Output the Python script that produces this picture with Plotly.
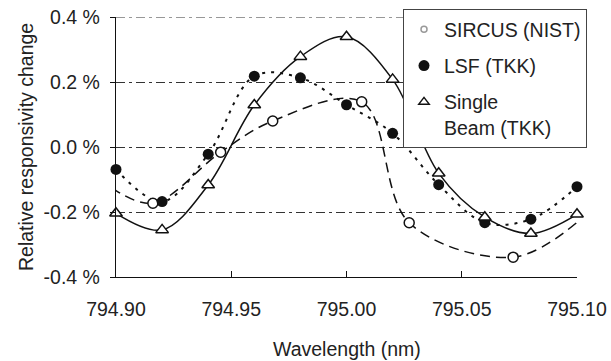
import plotly.graph_objects as go

# ---- data ----
wl_grid = [794.90, 794.92, 794.94, 794.96, 794.98, 795.00, 795.02, 795.04, 795.06, 795.08, 795.10]
lsf_tkk = [-0.069, -0.168, -0.022, 0.218, 0.213, 0.130, 0.042, -0.116, -0.233, -0.222, -0.122]
single_beam_tkk = [-0.204, -0.255, -0.117, 0.129, 0.278, 0.339, 0.208, -0.081, -0.216, -0.266, -0.207]

sircus_wl = [794.916, 794.9454, 794.968, 795.0066, 795.0272, 795.0723]
sircus_val = [-0.173, -0.016, 0.080, 0.139, -0.233, -0.339]
# smoothed SIRCUS curve (extends to the ends of the range)
sircus_curve_wl = [794.898, 794.916, 794.9454, 794.968, 795.0066, 795.0272, 795.0723, 795.10]
sircus_curve_val = [-0.125, -0.173, -0.016, 0.080, 0.139, -0.233, -0.339, -0.232]

y_tickvals = [-0.4, -0.2, 0.0, 0.2, 0.4]
y_ticktext = ["-0.4 %", "-0.2 %", "0.0 %", "0.2 %", "0.4 %"]
x_tickvals = [794.90, 794.95, 795.00, 795.05, 795.10]
x_ticktext = ["794.90", "794.95", "795.00", "795.05", "795.10"]

FONT = "Liberation Sans, Arial, sans-serif"
FS = 19.5
TXT = "#222222"
INK = "#111111"
GRID_DASH = "9px,4px,3px,4px"
GRID_COLOR = "#333333"

fig = go.Figure()

# lines (no legend)
fig.add_trace(go.Scatter(x=sircus_curve_wl, y=sircus_curve_val, mode="lines",
                         line=dict(color=INK, width=1.5, dash="10px,6px", shape="spline", smoothing=1),
                         showlegend=False, hoverinfo="skip", cliponaxis=False))
fig.add_trace(go.Scatter(x=wl_grid, y=lsf_tkk, mode="lines",
                         line=dict(color=INK, width=2, dash="3px,6px", shape="spline", smoothing=1),
                         showlegend=False, hoverinfo="skip", cliponaxis=False))
fig.add_trace(go.Scatter(x=wl_grid, y=single_beam_tkk, mode="lines",
                         line=dict(color=INK, width=1.5, shape="spline", smoothing=1),
                         showlegend=False, hoverinfo="skip", cliponaxis=False))

# markers
fig.add_trace(go.Scatter(x=sircus_wl, y=sircus_val, mode="markers",
                         marker=dict(symbol="circle", size=10, color="white",
                                     line=dict(color=INK, width=1.5)),
                         showlegend=False, cliponaxis=False))
fig.add_trace(go.Scatter(x=wl_grid, y=lsf_tkk, mode="markers",
                         marker=dict(symbol="circle", size=11, color=INK),
                         showlegend=False, cliponaxis=False))
fig.add_trace(go.Scatter(x=wl_grid, y=single_beam_tkk, mode="markers",
                         marker=dict(symbol="triangle-up", size=11, color="white",
                                     line=dict(color=INK, width=1.5)),
                         showlegend=False, cliponaxis=False))

# legend entries
fig.add_trace(go.Scatter(x=[None], y=[None], mode="markers", name="SIRCUS (NIST)",
                         legendgroup="a",
                         marker=dict(symbol="circle-open", size=6, color="#999999",
                                     line=dict(width=1.5))))
fig.add_trace(go.Scatter(x=[None], y=[None], mode="markers", name="LSF (TKK)",
                         legendgroup="b",
                         marker=dict(symbol="circle", size=11, color=INK)))
fig.add_trace(go.Scatter(x=[None], y=[None], mode="markers", name="Single<br>Beam (TKK)",
                         legendgroup="c",
                         marker=dict(symbol="triangle-up", size=9, color="white",
                                     line=dict(color=INK, width=1.5))))

L, R, T, B = 116, 34, 17, 84
W, H = 611, 361
pw, ph = W - L - R, H - T - B

fig.update_layout(
    width=W, height=H,
    margin=dict(l=L, r=R, t=T, b=B, pad=0, autoexpand=False),
    paper_bgcolor="white", plot_bgcolor="white",
    font=dict(family=FONT, size=FS, color=TXT),
    showlegend=True,
    legend=dict(x=(403 - L) / pw, y=(H - B - 9) / ph, xanchor="left", yanchor="top",
                bgcolor="white", bordercolor="#444444", borderwidth=1,
                font=dict(family=FONT, size=FS, color=TXT),
                tracegroupgap=8, valign="top", itemwidth=30),
    xaxis=dict(range=[794.90, 795.10], tickvals=x_tickvals, ticktext=x_ticktext,
               showgrid=False, zeroline=False, showline=True, linecolor=INK, linewidth=1.3,
               ticks="inside", ticklen=6, tickcolor=INK, tickwidth=1.3,
               tickfont=dict(family=FONT, size=FS, color=TXT), ticklabelstandoff=14),
    yaxis=dict(range=[-0.4, 0.4], tickvals=y_tickvals, ticktext=y_ticktext,
               showgrid=True, gridcolor=GRID_COLOR, gridwidth=1, griddash=GRID_DASH,
               zeroline=False, showline=True, linecolor=INK, linewidth=1.3,
               ticks="outside", ticklen=5, tickcolor=INK, tickwidth=1.3,
               tickfont=dict(family=FONT, size=FS, color=TXT), ticklabelstandoff=6),
    shapes=[
        # top grid line (plotly omits the grid line at the range edge)
        dict(type="line", xref="paper", yref="y", x0=0, x1=1,
             y0=y_tickvals[-1], y1=y_tickvals[-1], layer="below",
             line=dict(color=GRID_COLOR, width=1, dash=GRID_DASH)),
    ],
    annotations=[
        dict(text="Wavelength (nm)", xref="paper", yref="paper",
             x=0.5, y=(H - B - 349) / ph, xanchor="center", yanchor="middle",
             showarrow=False, font=dict(family=FONT, size=FS, color=TXT)),
        dict(text="Relative responsivity change", xref="paper", yref="paper",
             x=(26 - L) / pw, y=0.5, xanchor="center", yanchor="middle", textangle=-90,
             showarrow=False, font=dict(family=FONT, size=FS, color=TXT)),
    ],
)

fig.write_html("out.html", config={"displayModeBar": False},
               post_script="document.body.style.margin='0';document.body.style.overflow='hidden';")
